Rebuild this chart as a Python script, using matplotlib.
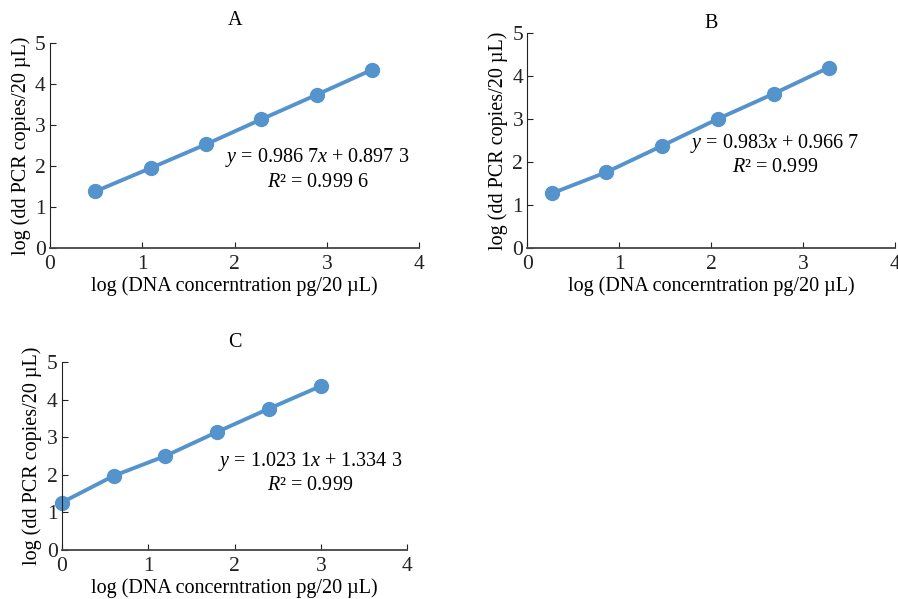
import matplotlib
matplotlib.use("Agg")
import matplotlib.pyplot as plt

# fonts: Times-like serif everywhere
plt.rcParams['font.family'] = ['Liberation Serif', 'DejaVu Serif']
plt.rcParams['mathtext.fontset'] = 'custom'
plt.rcParams['mathtext.rm'] = 'Liberation Serif'
plt.rcParams['mathtext.it'] = 'Liberation Serif:italic'

# data
x_a = [0.49, 1.09, 1.69, 2.29, 2.89, 3.49]
y_a = [1.38, 1.95, 2.53, 3.14, 3.74, 4.35]
x_b = [0.27, 0.86, 1.47, 2.07, 2.68, 3.28]
y_b = [1.27, 1.76, 2.38, 3.00, 3.59, 4.20]
x_c = [0.0, 0.6, 1.2, 1.8, 2.4, 3.0]
y_c = [1.26, 1.97, 2.50, 3.14, 3.76, 4.36]

titles = ['A', 'B', 'C']
eq_lines = ['$y$ = 0.986 7$x$ + 0.897 3', '$y$ = 0.983$x$ + 0.966 7', '$y$ = 1.023 1$x$ + 1.334 3']
r2_lines = ['$R$² = 0.999 6', '$R$² = 0.999', '$R$² = 0.999']
eq_pos = [(2.90, 2.22, 1.61), (2.69, 2.42, 1.86), (2.87, 2.34, 1.71)]

xlabel = 'log (DNA concerntration pg/20 µL)'
ylabel = 'log (dd PCR copies/20 µL)'

blue = '#5593cc'

fig = plt.figure(figsize=(8.98, 5.99), dpi=100)
rects = [[0.0557, 0.586, 0.411, 0.342],
         [0.5872, 0.5865, 0.4095, 0.358],
         [0.0687, 0.0818, 0.385, 0.314]]
title_pads = [13, 4, 11]

series = [(x_a, y_a), (x_b, y_b), (x_c, y_c)]
for i, (xs, ys) in enumerate(series):
    ax = fig.add_axes(rects[i])
    ax.plot(xs, ys, color=blue, lw=2.8, marker='o', ms=10, clip_on=False)
    ax.set_xlim(0, 4)
    ax.set_ylim(0, 5)
    ax.set_xticks([0, 1, 2, 3, 4])
    ax.set_yticks([0, 1, 2, 3, 4, 5])
    for s in ['top', 'right']:
        ax.spines[s].set_visible(False)
    ax.spines['left'].set_color('#222222')
    ax.spines['bottom'].set_color('#444444')
    ax.spines['bottom'].set_linewidth(1.3)
    ax.tick_params(direction='in', length=4, labelsize=15.5, colors='#222222')
    ax.tick_params(axis='x', pad=5)
    ax.tick_params(axis='y', pad=3)
    ax.set_xlabel(xlabel, fontsize=14.5, labelpad=2)
    ax.set_ylabel(ylabel, fontsize=14.5, labelpad=3)
    ax.set_title(titles[i], fontsize=14.5, pad=title_pads[i])
    ex, ey1, ey2 = eq_pos[i]
    ax.text(ex, ey1, eq_lines[i], fontsize=14.5, ha='center', va='center')
    ax.text(ex, ey2, r2_lines[i], fontsize=14.5, ha='center', va='center')

fig.savefig('out.png', dpi=100)
